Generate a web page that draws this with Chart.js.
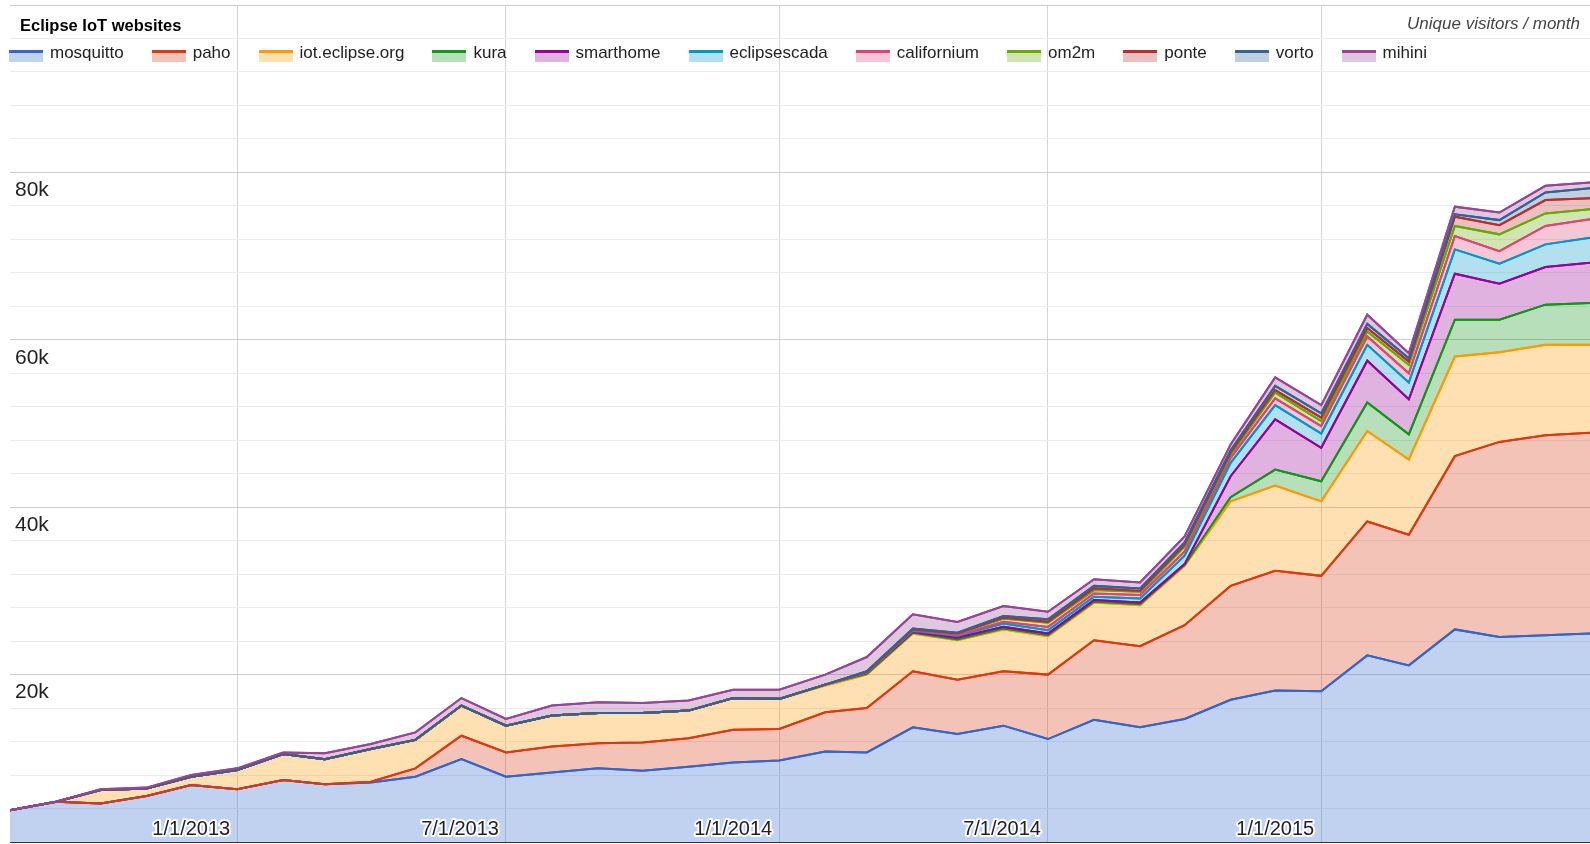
<!DOCTYPE html>
<html>
<head>
<meta charset="utf-8">
<title>Eclipse IoT websites</title>
<script src="https://cdn.jsdelivr.net/npm/chart.js@4.4.1/dist/chart.umd.min.js"></script>
<style>
  html, body { margin: 0; padding: 0; background: #fff; }
  #wrap { position: relative; width: 1590px; height: 844px; font-family: "Liberation Sans", Arial, sans-serif; }
  #title { position: absolute; left: 20px; top: 16px; font-size: 16.5px; line-height: 19px; font-weight: bold; color: #000; }
  #caption { position: absolute; right: 10px; top: 14px; font-size: 17px; line-height: 20px; font-style: italic; color: #444; }
  #legend { position: absolute; left: 9px; top: 43px; display: flex; gap: 28px; font-size: 17px; line-height: 20px; color: #222; white-space: nowrap; }
  .item { display: flex; align-items: flex-start; }
  .swatch { width: 34px; height: 12px; margin-top: 7px; margin-right: 7px; box-sizing: border-box; border-top: 3px solid; }
</style>
</head>
<body>
<div id="wrap">
  <canvas id="iotChart"></canvas>
  <div id="title">Eclipse IoT websites</div>
  <div id="caption">Unique visitors / month</div>
  <div id="legend"></div>
</div>
<script>
// months (first of each month), Aug 2012 .. Jul 2015
const months = [
  "2012-08", "2012-09", "2012-10", "2012-11", "2012-12",
  "2013-01", "2013-02", "2013-03", "2013-04", "2013-05", "2013-06",
  "2013-07", "2013-08", "2013-09", "2013-10", "2013-11", "2013-12",
  "2014-01", "2014-02", "2014-03", "2014-04", "2014-05", "2014-06",
  "2014-07", "2014-08", "2014-09", "2014-10", "2014-11", "2014-12",
  "2015-01", "2015-02", "2015-03", "2015-04", "2015-05", "2015-06", "2015-07"
];

const xTickLabels = ["1/1/2013", "7/1/2013", "1/1/2014", "7/1/2014", "1/1/2015"];

const seriesNames = ["mosquitto", "paho", "iot.eclipse.org", "kura", "smarthome", "eclipsescada",
  "californium", "om2m", "ponte", "vorto", "mihini"];

const seriesColors = ["#3366cc", "#dc3912", "#ff9900", "#109618", "#990099", "#0099c6",
  "#dd4477", "#66aa00", "#b82e2e", "#316395", "#994499"];

// unique visitors per month
const mosquitto = [3800, 4800, 4600, 5500, 6800, 6300, 7400, 6900, 7100, 7800, 9900, 7800,
  8300, 8800, 8500, 9000, 9500, 9750, 10800, 10700, 13700, 12900, 13900, 12300,
  14600, 13700, 14700, 17000, 18100, 18000, 22300, 21100, 25400, 24500, 24700, 24900];
const paho = [0, 0, 0, 0, 0, 0, 0, 0, 100, 1000, 2800, 2900,
  3100, 3000, 3400, 3400, 3900, 3750, 4700, 5300, 6700, 6500, 6500, 7700,
  9500, 9700, 11200, 13600, 14300, 13800, 16000, 15600, 20700, 23300, 23900, 24000];
const iotEclipse = [0, 0, 1600, 900, 1000, 2300, 3100, 3000, 3900, 3400, 3600, 3200,
  3700, 3600, 3500, 3300, 3800, 3600, 3200, 4000, 4500, 4700, 5000, 4600,
  4500, 4900, 7100, 10100, 10200, 8900, 10800, 9000, 11900, 10700, 10800, 10500];
const kura = [0, 0, 0, 0, 0, 0, 0, 0, 0, 0, 0, 0,
  0, 0, 0, 0, 0, 0, 100, 100, 100, 100, 100, 100,
  100, 100, 100, 500, 1900, 2400, 3400, 3000, 4400, 3900, 4800, 5000];
const smarthome = [0, 0, 0, 0, 0, 0, 0, 0, 0, 0, 0, 0,
  0, 0, 0, 0, 0, 0, 0, 100, 100, 200, 200, 200,
  200, 200, 100, 2500, 6000, 4000, 5000, 4200, 5500, 4300, 4500, 4800];
const eclipsescada = [0, 0, 0, 0, 0, 0, 0, 0, 0, 0, 0, 0,
  0, 0, 0, 0, 0, 0, 0, 50, 100, 200, 400, 400,
  400, 500, 1000, 1600, 1700, 1700, 1900, 2000, 2900, 2400, 2700, 3000];
const californium = [0, 0, 0, 0, 0, 0, 0, 0, 0, 0, 0, 0,
  0, 0, 0, 0, 0, 0, 0, 0, 100, 100, 200, 400,
  400, 400, 500, 600, 800, 900, 1000, 1100, 1600, 1500, 2200, 2200];
const om2m = [0, 0, 0, 0, 0, 0, 0, 0, 0, 0, 0, 0,
  0, 0, 0, 0, 0, 0, 0, 50, 100, 200, 400, 500,
  400, 400, 600, 400, 700, 600, 600, 1000, 1200, 2000, 1500, 1200];
const ponte = [0, 0, 0, 0, 0, 0, 0, 0, 0, 0, 0, 0,
  0, 0, 0, 0, 0, 0, 0, 0, 0, 0, 100, 100,
  200, 100, 200, 200, 300, 400, 400, 400, 1100, 1100, 1600, 1300];
const vorto = [0, 0, 0, 0, 0, 0, 0, 0, 0, 0, 0, 0,
  0, 0, 0, 0, 0, 0, 0, 100, 100, 100, 200, 300,
  300, 300, 300, 300, 500, 500, 500, 400, 300, 600, 900, 1200];
const mihini = [0, 0, 100, 100, 200, 200, 200, 700, 600, 900, 900, 800,
  1200, 1300, 1200, 1200, 1000, 1100, 1200, 1700, 1700, 1300, 1200, 900,
  800, 700, 700, 700, 1000, 1000, 1100, 600, 900, 900, 800, 700];

const seriesValues = [mosquitto, paho, iotEclipse, kura, smarthome, eclipsescada,
  californium, om2m, ponte, vorto, mihini];

function monthToDay(ym) {
  const [y, m] = ym.split("-").map(Number);
  return Date.UTC(y, m - 1, 1) / 86400000;
}

function labelToDay(label) {
  const [m, d, y] = label.split("/").map(Number);
  return Date.UTC(y, m - 1, d) / 86400000;
}

function fade(hex, a) {
  const n = parseInt(hex.slice(1), 16);
  return "rgba(" + (n >> 16) + "," + ((n >> 8) & 255) + "," + (n & 255) + "," + a + ")";
}

const days = months.map(monthToDay);

const datasets = seriesNames.map(function (name, i) {
  return {
    label: name,
    data: seriesValues[i].map(function (v, j) { return { x: days[j], y: v }; }),
    borderColor: seriesColors[i],
    backgroundColor: fade(seriesColors[i], 0.3),
    fill: i === 0 ? "origin" : "-1"
  };
});

// round joins for the white halo round the tick labels
const roundJoins = {
  id: "roundJoins",
  beforeDraw(chart) {
    chart.ctx.lineJoin = "round";
  }
};

// draw lines again in series order so later series sit on top, like the original
const linesOnTop = {
  id: "linesOnTop",
  afterDatasetsDraw(chart) {
    const ctx = chart.ctx;
    const a = chart.chartArea;
    ctx.save();
    ctx.beginPath();
    ctx.rect(a.left, a.top - 2, a.right - a.left + 2, a.bottom - a.top + 2);
    ctx.clip();
    chart.data.datasets.forEach(function (ds, i) {
      chart.getDatasetMeta(i).dataset.draw(ctx, a);
    });
    ctx.restore();
    ctx.lineJoin = "round";
  }
};

Chart.defaults.font.family = '"Liberation Sans", Arial, sans-serif';

const chart = new Chart(document.getElementById("iotChart"), {
  type: "line",
  data: { datasets: datasets },
  plugins: [roundJoins, linesOnTop],
  options: {
    responsive: true,
    maintainAspectRatio: false,
    animation: false,
    layout: { padding: { left: 0, right: 0, top: 5, bottom: 0 } },
    elements: {
      point: { radius: 0, hoverRadius: 0 },
      line: { borderWidth: 2, tension: 0 }
    },
    plugins: {
      legend: { display: false },
      tooltip: { enabled: false },
      filler: { drawTime: "beforeDatasetsDraw" }
    },
    scales: {
      x: {
        type: "linear",
        min: days[0],
        max: days[days.length - 1],
        afterBuildTicks: function (scale) {
          scale.ticks = xTickLabels.map(function (t) { return { value: labelToDay(t) }; });
        },
        afterFit: function (scale) {
          scale.paddingLeft = 0;
          scale.paddingRight = 0;
        },
        grid: { color: "#d4d4d4", drawTicks: false },
        border: { display: false },
        ticks: {
          autoSkip: false,
          maxRotation: 0,
          mirror: true,
          align: "end",
          padding: 1,
          labelOffset: -7,
          z: 1,
          color: "#222",
          textStrokeColor: "rgba(255,255,255,0.9)",
          textStrokeWidth: 4,
          font: { size: 20 },
          callback: function (value, index) { return xTickLabels[index]; }
        }
      },
      y: {
        stacked: true,
        min: 0,
        max: 100000,
        afterFit: function (scale) {
          scale.paddingTop = 0;
          scale.paddingBottom = 0;
        },
        grid: {
          drawTicks: false,
          color: function (c) {
            if (c.tick.value === 0) return "#333";
            return c.tick.value % 20000 === 0 ? "#cccccc" : "#ebebeb";
          }
        },
        border: { display: false },
        ticks: {
          stepSize: 4000,
          maxTicksLimit: 30,
          autoSkip: false,
          mirror: true,
          crossAlign: "near",
          padding: 5,
          labelOffset: 18,
          z: 1,
          color: "#222",
          font: { size: 21 },
          callback: function (v) {
            return (v > 0 && v < 100000 && v % 20000 === 0) ? (v / 1000) + "k" : "";
          }
        }
      }
    }
  }
});

// legend built from the chart's datasets
const legendBox = document.getElementById("legend");
chart.data.datasets.forEach(function (ds) {
  const item = document.createElement("div");
  item.className = "item";
  const sw = document.createElement("span");
  sw.className = "swatch";
  sw.style.borderTopColor = ds.borderColor;
  sw.style.background = ds.backgroundColor;
  const txt = document.createElement("span");
  txt.textContent = ds.label;
  item.appendChild(sw);
  item.appendChild(txt);
  legendBox.appendChild(item);
});
</script>
</body>
</html>
